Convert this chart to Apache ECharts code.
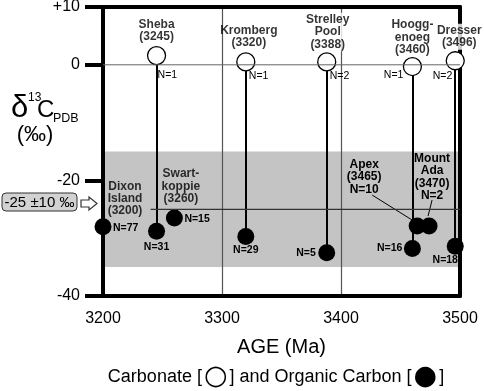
<!DOCTYPE html>
<html>
<head>
<meta charset="utf-8">
<script src="https://cdn.jsdelivr.net/npm/echarts@6.0.0/dist/echarts.min.js"></script>
<style>
html, body { margin: 0; padding: 0; background: #fff; }
#chart { width: 484px; height: 391px; }
</style>
</head>
<body>
<div id="chart"></div>
<script>
// carbonate (open circles)
var carbSite = ['Sheba', 'Kromberg', 'Strelley\nPool', 'Hoogg-\nenoeg', 'Dresser'];
var carbAge = [3245, 3320, 3388, 3460, 3496];
var carbD13C = [1.6, 0.5, 0.5, -0.3, 0.7];
var carbN = [1, 1, 2, 1, 2];

// organic carbon (filled circles)
var orgSite = ['Dixon\nIsland', 'Sheba', 'Swart-\nkoppie', 'Kromberg', 'Strelley Pool', 'Hooggenoeg', 'Apex', 'Mount\nAda', 'Dresser'];
var orgAgeLabel = [3200, 3245, 3260, 3320, 3388, 3460, 3465, 3470, 3496];
var orgAge = [3200, 3245, 3260, 3320, 3388, 3460, 3464, 3474, 3496]; // Apex / Mount Ada spread as drawn
var orgD13C = [-28.0, -28.8, -26.5, -29.7, -32.5, -31.8, -27.9, -27.9, -31.4];
var orgN = [77, 31, 15, 29, 5, 16, 10, 2, 18];

var yTicks = [-40, -20, 0, 10];
var band = [-35, -15];            // -25 +/- 10 permil
var meanLine = [[3240, -25], [3500, -25]];
var zeroLine = [[3200, 0], [3500, 0]];

// label placement (pixels from the symbol centre)
var carbNPos = [['left', 1, 20], ['left', 3, 14], ['left', 3, 14], ['right', -9, 9], ['right', -3, 15]];
var carbNamePos = [[0, -25], [3, -25], [1, -30], [0, -29], [4, -24]];
var carbNameMask = [false, false, true, true, true];
var orgNPos = [['left', 10, 1], ['center', 0, 16], ['left', 10, 1], ['center', 0, 14], ['right', -11, 0],
               ['right', -10, 0], ['center', -53, -49], ['center', 3, -49], ['center', -10, 14]];
var orgNamePos = { 0: [22, -28], 2: [6.5, -31.5] };
var orgLeader = { 6: [-45, -31, -5, -6], 7: [3, -26, -1, -10] };

var FONT = 'Liberation Sans, Arial, Helvetica, sans-serif';

var myChart = echarts.init(document.getElementById('chart'));

function each(arr, fn) { for (var i = 0; i < arr.length; i++) fn(arr[i], i); }

var connectors = [];
each(carbAge, function (a, i) {
    var j = orgAge.indexOf(a);
    connectors.push({ coords: [[a, carbD13C[i]], [a, orgD13C[j]]] });
});

var carbData = [], carbNames = [];
each(carbAge, function (a, i) {
    carbData.push({
        value: [a, carbD13C[i]],
        label: { show: true, formatter: 'N=' + carbN[i], position: 'inside', align: carbNPos[i][0],
                 offset: [carbNPos[i][1], carbNPos[i][2]], color: '#000', fontSize: 10.5, fontFamily: FONT }
    });
    carbNames.push({
        value: [a, carbD13C[i]],
        label: { show: true, formatter: carbSite[i] + '\n(' + a + ')', position: 'inside', align: 'center',
                 offset: carbNamePos[i], color: '#000', fontSize: 12, fontWeight: 'bold', lineHeight: 12.5, fontFamily: FONT,
                 backgroundColor: carbNameMask[i] ? '#fff' : 'transparent', padding: [1, 1, 0, 1] }
    });
});

var orgData = [], orgNames = [], leaders = [];
each(orgAge, function (a, i) {
    var lead = orgLeader[i];
    orgData.push({
        value: [a, orgD13C[i]],
        label: { show: true, position: 'inside', align: orgNPos[i][0], offset: [orgNPos[i][1], orgNPos[i][2]],
                 formatter: lead ? orgSite[i] + '\n(' + orgAgeLabel[i] + ')\nN=' + orgN[i] : 'N=' + orgN[i],
                 color: '#000', fontSize: lead ? 12 : 10.5, fontWeight: 'bold', lineHeight: 12.3, fontFamily: FONT }
    });
    if (lead) leaders.push([a, orgD13C[i], i]);
    if (orgNamePos[i]) {
        orgNames.push({
            value: [a, orgD13C[i]],
            label: { show: true, formatter: orgSite[i] + '\n(' + orgAgeLabel[i] + ')', position: 'inside', align: 'center',
                     offset: orgNamePos[i], color: '#000', fontSize: 12, fontWeight: 'bold', lineHeight: 12.3, fontFamily: FONT }
        });
    }
});

var axisLabelStyle = { color: '#000', fontSize: 16, fontFamily: FONT };
var frame = { show: true, onZero: false, lineStyle: { color: '#000', width: 4 } };

option = {
    animation: false,
    grid: { left: 103, right: 24, top: 7, bottom: 95, outerBoundsMode: 'none' },
    xAxis: [
        {
            type: 'value', min: 3200, max: 3500, interval: 100, z: 1.5,
            axisLine: frame, axisTick: { show: false },
            axisLabel: Object.assign({ margin: 15, formatter: function (v) { return String(v); } }, axisLabelStyle),
            splitLine: { show: true, lineStyle: { color: '#555', width: 1.2 } },
            name: 'AGE (Ma)', nameLocation: 'middle', nameGap: 41,
            nameTextStyle: { color: '#000', fontSize: 20, fontFamily: FONT }
        },
        {
            type: 'value', position: 'top', min: 3200, max: 3500, z: 1.5,
            axisLine: frame, axisTick: { show: false }, axisLabel: { show: false }, splitLine: { show: false }
        }
    ],
    yAxis: [
        {
            type: 'value', min: -40, max: 10, interval: 10, z: 1.5,
            axisLine: frame,
            axisTick: { show: true, length: 18, customValues: yTicks, lineStyle: { color: '#000', width: 4 } },
            axisLabel: Object.assign({ margin: 23, customValues: yTicks,
                formatter: function (v) { return v > 0 ? '+' + v : String(v); } }, axisLabelStyle),
            splitLine: { show: false }
        },
        {
            type: 'value', position: 'right', min: -40, max: 10, z: 1.5,
            axisLine: frame, axisTick: { show: false }, axisLabel: { show: false }, splitLine: { show: false }
        }
    ],
    series: [
        {
            type: 'line', data: [], silent: true,
            markArea: { silent: true, itemStyle: { color: '#c4c4c4' },
                data: [[{ xAxis: 3200, yAxis: band[1] }, { xAxis: 3500, yAxis: band[0] }]] }
        },
        { type: 'line', data: zeroLine, symbol: 'none', silent: true, lineStyle: { color: '#666', width: 1 } },
        { type: 'line', data: meanLine, symbol: 'none', silent: true, lineStyle: { color: '#333', width: 1.2 } },
        {
            type: 'lines', coordinateSystem: 'cartesian2d', silent: true,
            lineStyle: { color: '#000', width: 2, opacity: 1, curveness: 0 }, data: connectors
        },
        {
            // leader lines from the Apex / Mount Ada labels to their points
            type: 'custom', silent: true, data: leaders, encode: { x: 0, y: 1 },
            renderItem: function (params, api) {
                var p = api.coord([api.value(0), api.value(1)]);
                var s = orgLeader[api.value(2)];
                return { type: 'line', shape: { x1: p[0] + s[0], y1: p[1] + s[1], x2: p[0] + s[2], y2: p[1] + s[3] },
                         style: { stroke: '#000', lineWidth: 1 } };
            }
        },
        {
            type: 'scatter', name: 'Carbonate', symbolSize: 18, silent: true,
            itemStyle: { color: '#fff', borderColor: '#000', borderWidth: 1.3, opacity: 1 }, data: carbData
        },
        {
            type: 'scatter', name: 'carbNames', symbolSize: 18, silent: true,
            itemStyle: { color: 'rgba(0,0,0,0)' }, data: carbNames
        },
        {
            type: 'scatter', name: 'Organic Carbon', symbolSize: 17, silent: true,
            itemStyle: { color: '#000', opacity: 1 }, data: orgData
        },
        {
            type: 'scatter', name: 'orgNames', symbolSize: 17, silent: true,
            itemStyle: { color: 'rgba(0,0,0,0)' }, data: orgNames
        }
    ],
    graphic: [
        { type: 'text', x: 11, y: 108, style: { text: 'δ', fontSize: 31, fontFamily: FONT, fill: '#000', verticalAlign: 'middle' } },
        { type: 'text', x: 28, y: 98, style: { text: '13', fontSize: 12, fontFamily: FONT, fill: '#000', verticalAlign: 'middle' } },
        { type: 'text', x: 37, y: 110, style: { text: 'C', fontSize: 24, fontFamily: FONT, fill: '#000', verticalAlign: 'middle' } },
        { type: 'text', x: 53, y: 119, style: { text: 'PDB', fontSize: 12.5, fontFamily: FONT, fill: '#000', verticalAlign: 'middle' } },
        { type: 'text', x: 35, y: 135, style: { text: '(‰)', fontSize: 22, fontFamily: FONT, fill: '#000', align: 'center', verticalAlign: 'middle' } },
        { type: 'rect', shape: { x: 2, y: 193, width: 75, height: 18, r: 4 }, style: { fill: '#d2d2d2', stroke: '#333', lineWidth: 1 } },
        { type: 'text', x: 39.5, y: 202.5, style: { text: '-25 ±10 ‰', fontSize: 15, fontFamily: FONT, fill: '#000', align: 'center', verticalAlign: 'middle' } },
        { type: 'polygon', shape: { points: [[81, 200], [89, 200], [89, 197], [97, 203.5], [89, 210], [89, 207], [81, 207]] },
          style: { fill: '#fff', stroke: '#333', lineWidth: 1.2 } },
        { type: 'text', x: 276, y: 377, style: {
            text: '{t|Carbonate [}{o|○}{t|] and Organic Carbon [}{o|●}{t|]}',
            align: 'center', verticalAlign: 'middle',
            rich: {
                t: { fontSize: 18, fontFamily: FONT, fill: '#000' },
                o: { fontSize: 27, fontFamily: 'DejaVu Sans', fill: '#000', padding: [0, 2] }
            } } }
    ]
};

myChart.setOption(option);
</script>
</body>
</html>
